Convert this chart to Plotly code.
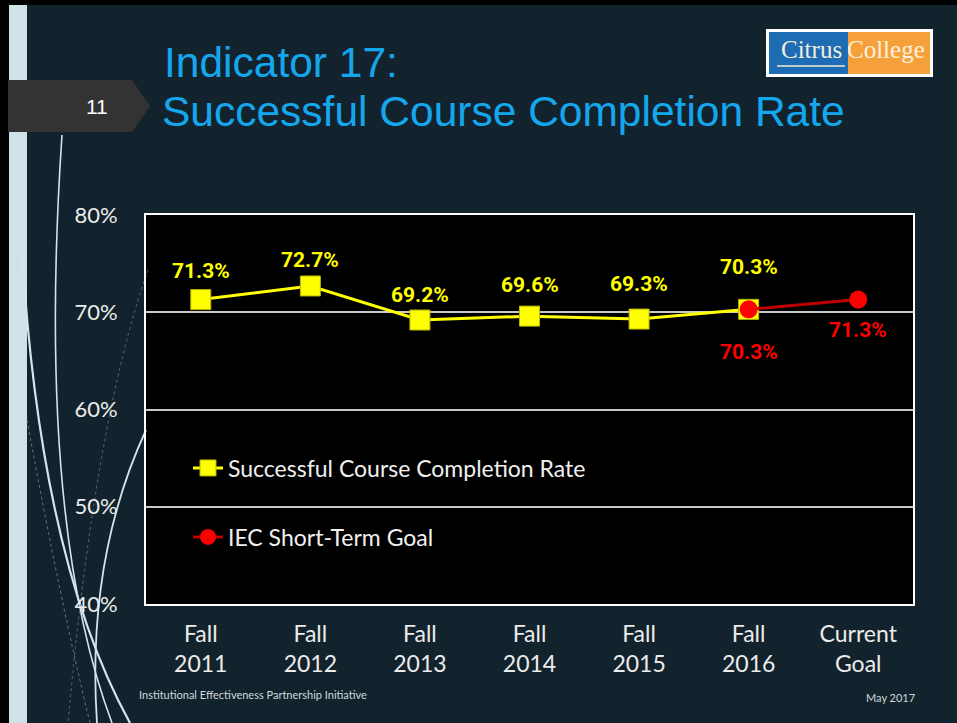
import plotly.graph_objects as go

categories = ["Fall<br>2011", "Fall<br>2012", "Fall<br>2013", "Fall<br>2014",
              "Fall<br>2015", "Fall<br>2016", "Current<br>Goal"]
completion_rate = [71.3, 72.7, 69.2, 69.6, 69.3, 70.3]
goal_categories = ["Fall<br>2016", "Current<br>Goal"]
goal_rate = [70.3, 71.3]
y_ticks = [40, 50, 60, 70, 80]
y_tick_labels = ["40%", "50%", "60%", "70%", "80%"]

W, H = 957, 723
L, R, T, B = 146, 913, 215, 604
BG = "#13232d"


def px(x):
    return (x - L) / (R - L)


def py(y):
    return (B - y) / (B - T)


fig = go.Figure()
fig.add_trace(go.Scatter(
    x=categories[:len(completion_rate)], y=completion_rate,
    mode="lines+markers", name="Successful Course Completion Rate",
    line=dict(color="#ffff00", width=3),
    marker=dict(symbol="square", size=20, color="#ffff00",
                line=dict(color="#b8b800", width=1)),
    legend="legend",
))
fig.add_trace(go.Scatter(
    x=goal_categories, y=goal_rate,
    mode="lines+markers", name="IEC Short-Term Goal",
    line=dict(color="#c00000", width=3),
    marker=dict(symbol="circle", size=18, color="#ff0000"),
    legend="legend2",
))

label_font = dict(family="Roboto, Arial, sans-serif", size=21, weight="bold")
yellow_shift = [29, 26, 25, 31, 35, 42]
for c, v, s in zip(categories, completion_rate, yellow_shift):
    fig.add_annotation(x=c, y=v, text=f"{v:.1f}%", showarrow=False, yshift=s,
                       xanchor="center", yanchor="middle",
                       font=dict(color="#ffff00", **label_font), xref="x", yref="y")
red_shift = [-43, -30]
for c, v, s in zip(goal_categories, goal_rate, red_shift):
    fig.add_annotation(x=c, y=v, text=f"{v:.1f}%", showarrow=False, yshift=s,
                       xanchor="center", yanchor="middle",
                       font=dict(color="#ff0000", **label_font), xref="x", yref="y")

shapes = []


def rect(x0, y0, x1, y1, color, line=None, layer="below"):
    shapes.append(dict(type="rect", xref="paper", yref="paper",
                       x0=px(x0), x1=px(x1), y0=py(y0), y1=py(y1),
                       fillcolor=color, line=line or dict(width=0), layer=layer))


def path(points, color, width, fill=None, layer="below", closed=False, dash="solid"):
    d = ""
    for p in points:
        if isinstance(p, str):
            d += f" {p}"
        else:
            d += f" {px(p[0]):.5f},{py(p[1]):.5f}"
    if closed:
        d += " Z"
    shapes.append(dict(type="path", xref="paper", yref="paper", path=d.strip(),
                       line=dict(color=color, width=width, dash=dash),
                       fillcolor=fill, layer=layer))


# frame and left strip
rect(0, 0, 957, 5, "#000000")
rect(0, 0, 9, 723, "#000000")
rect(9, 5, 27, 723, "#d0e2e8")

# decorative curves
path(["M", (22, 250), "Q", (40, 560), (130, 723)], "#cfe6ee", 2.2)
path(["M", (62, 135), "Q", (36, 520), (112, 723)], "#cfe6ee", 1.6)
path(["M", (97, 723), "Q", (86, 560), (146, 430)], "#cfe6ee", 1.8)
path(["M", (27, 420), "Q", (60, 600), (90, 723)], "#5f7a84", 1, dash="dot")
path(["M", (148, 270), "Q", (95, 420), (68, 723)], "#4f6a74", 1, dash="dot")

# slide number tab
path(["M", (8, 80), "L", (132, 80), "L", (150, 106), "L", (132, 132), "L", (8, 132)],
     "#333333", 0, fill="#333333", closed=True)

# logo
rect(766, 29, 933, 77, "#ffffff")
rect(769, 32, 848, 74, "#1e6cb3")
rect(848, 32, 930, 74, "#f5a03a")
path(["M", (777, 66), "L", (845, 66)], "#f0ead0", 1.5)

# 70% gridline is grey in the original
fig.update_layout(shapes=shapes)


def text(x, y, s, font, xanchor="center"):
    fig.add_annotation(x=px(x), y=py(y), xref="paper", yref="paper", text=s,
                       showarrow=False, xanchor=xanchor, yanchor="middle", font=font)


title_font = dict(family="Liberation Sans, Arial", size=42.5, color="#15a7ee")
text(97, 107, "11", dict(family="Liberation Sans, Arial", size=21, color="#ffffff"))
text(162, 62, "Indicator 17:", title_font, "left")
text(160, 112, "Successful Course Completion Rate", title_font, "left")
text(811, 50, "Citrus", dict(family="Liberation Serif, serif", size=25, color="#f3efdc"))
text(886, 50, "College", dict(family="Liberation Serif, serif", size=25, color="#fbf1dc"))
text(137, 694, "Institutional Effectiveness Partnership Initiative",
     dict(family="Lato, sans-serif", size=11, color="#cfd9dd"), "left")
text(917, 697, "May 2017", dict(family="Lato, sans-serif", size=11, color="#cfd9dd"), "right")

xaxis_font = dict(family="Lato, DejaVu Sans, sans-serif", size=23, color="#ececec")
yaxis_font = dict(family="Lato, DejaVu Sans, sans-serif", size=22, color="#ececec")
legend_font = dict(family="Lato, DejaVu Sans, sans-serif", size=23, color="#f0f0f0")
fig.update_layout(
    width=W, height=H, autosize=False,
    margin=dict(l=L, r=W - R, t=T, b=H - B, pad=0),
    paper_bgcolor=BG, plot_bgcolor="#000000",
    showlegend=True,
    legend=dict(x=px(188), y=py(468), xanchor="left", yanchor="middle",
                bgcolor="rgba(0,0,0,0)", font=legend_font, itemwidth=30),
    legend2=dict(x=px(188), y=py(537), xanchor="left", yanchor="middle",
                 bgcolor="rgba(0,0,0,0)", font=legend_font, itemwidth=30),
    xaxis=dict(type="category", categoryorder="array", categoryarray=categories,
               range=[-0.5, len(categories) - 0.5], showgrid=False,
               showline=True, mirror=True, linecolor="#ffffff", linewidth=2,
               tickfont=xaxis_font, ticks="", ticklabelstandoff=8, zeroline=False),
    yaxis=dict(range=[40, 80], tickvals=y_ticks, ticktext=y_tick_labels,
               showgrid=True, gridcolor="#c8c8c8", gridwidth=1.5,
               showline=True, mirror=True, linecolor="#ffffff", linewidth=2,
               tickfont=yaxis_font, ticks="", ticklabelstandoff=22, zeroline=False),
)

fig.write_html("out.html", config={"displayModeBar": False},
               post_script="document.body.style.margin='0px';")
